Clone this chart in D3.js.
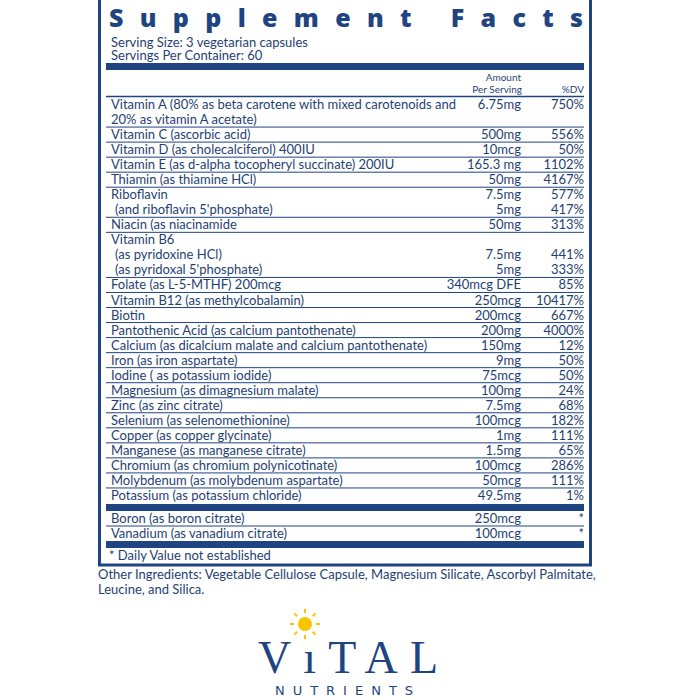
<!DOCTYPE html>
<html><head><meta charset="utf-8">
<script src="https://cdn.jsdelivr.net/npm/d3@7"></script>
<style>body{margin:0;background:#fff}</style></head>
<body><svg id="c" width="700" height="700"></svg>
<script>
// groups of lines: [name, amount, dv]
const nutrients = [
 [["Vitamin A (80% as beta carotene with mixed carotenoids and","6.75mg","750%"],["20% as vitamin A acetate)","",""]],
 [["Vitamin C (ascorbic acid)","500mg","556%"]],
 [["Vitamin D (as cholecalciferol) 400IU","10mcg","50%"]],
 [["Vitamin E (as d-alpha tocopheryl succinate) 200IU","165.3 mg","1102%"]],
 [["Thiamin (as thiamine HCl)","50mg","4167%"]],
 [["Riboflavin","7.5mg","577%"],[" (and riboflavin 5'phosphate)","5mg","417%"]],
 [["Niacin (as niacinamide","50mg","313%"]],
 [["Vitamin B6","",""],[" (as pyridoxine HCl)","7.5mg","441%"],[" (as pyridoxal 5'phosphate)","5mg","333%"]],
 [["Folate (as L-5-MTHF) 200mcg","340mcg DFE","85%"]],
 [["Vitamin B12 (as methylcobalamin)","250mcg","10417%"]],
 [["Biotin","200mcg","667%"]],
 [["Pantothenic Acid (as calcium pantothenate)","200mg","4000%"]],
 [["Calcium (as dicalcium malate and calcium pantothenate)","150mg","12%"]],
 [["Iron (as iron aspartate)","9mg","50%"]],
 [["Iodine ( as potassium iodide)","75mcg","50%"]],
 [["Magnesium (as dimagnesium malate)","100mg","24%"]],
 [["Zinc (as zinc citrate)","7.5mg","68%"]],
 [["Selenium (as selenomethionine)","100mcg","182%"]],
 [["Copper (as copper glycinate)","1mg","111%"]],
 [["Manganese (as manganese citrate)","1.5mg","65%"]],
 [["Chromium (as chromium polynicotinate)","100mcg","286%"]],
 [["Molybdenum (as molybdenum aspartate)","50mcg","111%"]],
 [["Potassium (as potassium chloride)","49.5mg","1%"]]
];
const others = [["Boron (as boron citrate)","250mcg","*"],["Vanadium (as vanadium citrate)","100mcg","*"]];
const titleText = "Supplement Facts";
const servingLines = ["Serving Size: 3 vegetarian capsules","Servings Per Container: 60"];
const footnote = "* Daily Value not established";
const ingredients = ["Other Ingredients: Vegetable Cellulose Capsule, Magnesium Silicate, Ascorbyl Palmitate,","Leucine, and Silica."];

const blue="#1f4482", txt="#1f3f73", font="Lato, 'Open Sans', sans-serif", fs=13;
const svg=d3.select("#c");
const L=98,R=592,xT=111,xA=521,xD=584;
svg.append("rect").attr("x",L+1.5).attr("y",-2).attr("width",R-L-3).attr("height",567).attr("fill","none").attr("stroke",blue).attr("stroke-width",3);
svg.append("text").attr("x",xT-2).attr("y",27).attr("fill",blue).attr("font-family","'Open Sans',sans-serif").attr("font-weight",800).attr("font-size",25).attr("textLength",474).attr("lengthAdjust","spacing").text(titleText);
servingLines.forEach((s,i)=>svg.append("text").attr("x",xT).attr("y",47+i*13).attr("fill",txt).attr("font-family",font).attr("font-size",fs).text(s));
const bar=(y,h)=>svg.append("rect").attr("x",L+8).attr("y",y).attr("width",R-L-16).attr("height",h).attr("fill",blue);
bar(63,7);
svg.append("text").attr("x",xA).attr("y",81).attr("text-anchor","end").attr("fill",txt).attr("font-family",font).attr("font-size",10).text("Amount");
svg.append("text").attr("x",xA+1).attr("y",93).attr("text-anchor","end").attr("fill",txt).attr("font-family",font).attr("font-size",10).text("Per Serving");
svg.append("text").attr("x",xD).attr("y",93).attr("text-anchor","end").attr("fill",txt).attr("font-family",font).attr("font-size",10).text("%DV");
const hline=(y,w)=>svg.append("line").attr("x1",L+8).attr("x2",R-8).attr("y1",y).attr("y2",y).attr("stroke",blue).attr("stroke-width",w);
hline(96.5,1.5);
const flat=[];nutrients.forEach(g=>g.forEach((r,ri)=>flat.push({r,last:ri===g.length-1})));
const y=d3.scaleBand().domain(d3.range(flat.length)).range([97,503]);
const drawRow=(r,yy)=>{
 const g=svg.append("g").attr("font-family",font).attr("font-size",fs).attr("fill",txt);
 const ind=r[0].startsWith(" ");
 g.append("text").attr("x",xT+(ind?4:0)).attr("y",yy).text(r[0].trim());
 g.append("text").attr("x",xA).attr("y",yy).attr("text-anchor","end").text(r[1]);
 g.append("text").attr("x",xD).attr("y",yy).attr("text-anchor","end").text(r[2]);
};
flat.forEach((d,i)=>{drawRow(d.r,y(i)+y.bandwidth()-3);if(d.last&&i<flat.length-1)hline(y(i)+y.bandwidth(),1);});
bar(504,7);
const y2=d3.scaleBand().domain(d3.range(others.length)).range([511,541]);
others.forEach((r,i)=>{drawRow(r,y2(i)+y2.bandwidth()-3);if(i<others.length-1)hline(y2(i)+y2.bandwidth(),1);});
bar(541,7);
svg.append("text").attr("x",xT-2).attr("y",560).attr("fill",txt).attr("font-family",font).attr("font-size",fs).text(footnote);
ingredients.forEach((s,i)=>svg.append("text").attr("x",L).attr("y",579+i*15).attr("fill",txt).attr("font-family",font).attr("font-size",fs).text(s));
const sun=svg.append("g").attr("transform","translate(305,624)");
sun.append("circle").attr("r",7).attr("fill","#f7c600");
d3.range(8).forEach(k=>{const a=k*Math.PI/4-Math.PI/2;sun.append("line").attr("x1",11*Math.cos(a)).attr("y1",11*Math.sin(a)).attr("x2",15*Math.cos(a)).attr("y2",15*Math.sin(a)).attr("stroke","#f7c600").attr("stroke-width",2);});
svg.append("text").attr("x",348).attr("y",673).attr("text-anchor","middle").attr("fill",blue).attr("font-family","'Liberation Serif',serif").attr("font-size",46).attr("textLength",180).text("VıTAL");
svg.append("text").attr("x",348).attr("y",695).attr("text-anchor","middle").attr("fill",blue).attr("font-family","'DejaVu Sans',sans-serif").attr("font-size",13).attr("letter-spacing",8).text("NUTRIENTS");
</script></body></html>
